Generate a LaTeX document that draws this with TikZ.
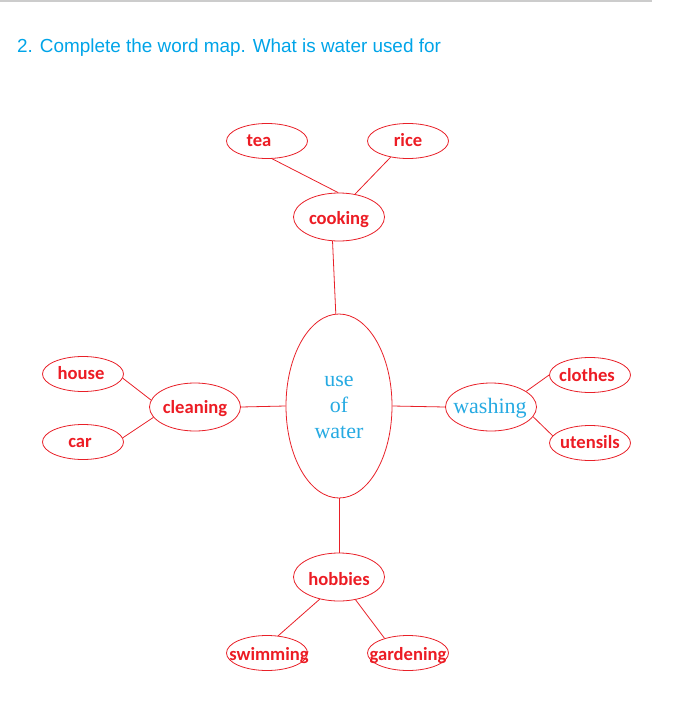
\documentclass[tikz,border=0pt]{standalone}
\usepackage{fontspec}
\setmainfont{Liberation Serif}
\newfontfamily\carlitofont{Carlito}
\newfontfamily\arialfont{Liberation Sans}
\usetikzlibrary{shapes.geometric}
\definecolor{linered}{RGB}{232,32,40}
\definecolor{textred}{RGB}{236,28,36}
\definecolor{titleblue}{RGB}{0,164,232}
\definecolor{waterblue}{RGB}{38,170,226}
\definecolor{rulegray}{RGB}{204,204,204}
% #1 = twice the horizontal shift, #2 = drop of the baseline below the centre, #3 = text
\newcommand\mklab[3][0pt]{\makebox[0pt]{\hspace*{#1}\raisebox{-#2}[0pt][0pt]{#3}}}
\tikzset{
  bubble/.style={ellipse, draw=linered, line width=0.8pt, inner sep=0pt,
    text=textred, font=\carlitofont\bfseries\fontsize{18.6}{22}\selectfont},
  small/.style={bubble, minimum width=81pt, minimum height=35pt},
  mid/.style={bubble, minimum width=91pt, minimum height=48pt},
  link/.style={draw=linered, line width=0.8pt},
}
\begin{document}
\begin{tikzpicture}[x=1pt,y=-1pt]
\useasboundingbox (0,0) rectangle (674,714);
\draw[rulegray, line width=1.5pt] (0,1) -- (652,1);
\node[anchor=base west, text=titleblue, font=\arialfont\fontsize{18.9}{22}\selectfont, inner sep=0pt] (title) at (17,52.5) {2. Complete the word map. What is water used for};

\node[bubble, minimum width=106pt, minimum height=184pt, text=waterblue,
  font=\fontsize{22}{26}\selectfont] (center) at (339,406)
  {\makebox[0pt]{\raisebox{20pt}[0pt][0pt]{\begin{tabular}[t]{@{}c@{}}use\\of\\water\end{tabular}}}};

\node[small] (tea) at (267,141) {\mklab[-16pt]{5.7pt}{tea}};
\node[small] (rice) at (408,141) {\mklab{5.7pt}{rice}};
\node[mid] (cooking) at (339,217) {\mklab{7pt}{cooking}};

\node[mid] (cleaning) at (195,407) {\mklab{6.3pt}{cleaning}};
\node[small] (house) at (83,374) {\mklab[-4pt]{5.5pt}{house}};
\node[small] (car) at (83,442) {\mklab[-6pt]{5.7pt}{car}};

\node[mid, text=waterblue, font=\fontsize{22}{26}\selectfont] (washing) at (491,407) {\mklab[-2pt]{6.3pt}{washing}};
\node[small] (clothes) at (590,375) {\mklab[-6pt]{6pt}{clothes}};
\node[small] (utensils) at (590,443) {\mklab{5.5pt}{utensils}};

\node[mid] (hobbies) at (339,577) {\mklab{8pt}{hobbies}};
\node[small] (swimming) at (267,653) {\mklab[4pt]{7pt}{swimming}};
\node[small] (gardening) at (408,653) {\mklab{7pt}{gardening}};

\draw[link] (tea.-74) -- (cooking.92);
\draw[link] (rice.-137) -- (cooking.55);
\draw[link] (cooking.-105) -- (center.92);
\draw[link] (center.west) -- (cleaning.east);
\draw[link] (center.east) -- (washing.west);
\draw[link] (center.south) -- (hobbies.north);
\draw[link] (house.-6) -- (cleaning.171);
\draw[link] (car.6) -- (cleaning.-166);
\draw[link] (washing.24) -- (clothes.180);
\draw[link] (washing.-13) -- (utensils.169);
\draw[link] (hobbies.-131) -- (swimming.57);
\draw[link] (hobbies.-54) -- (gardening.148);
\end{tikzpicture}
\end{document}
